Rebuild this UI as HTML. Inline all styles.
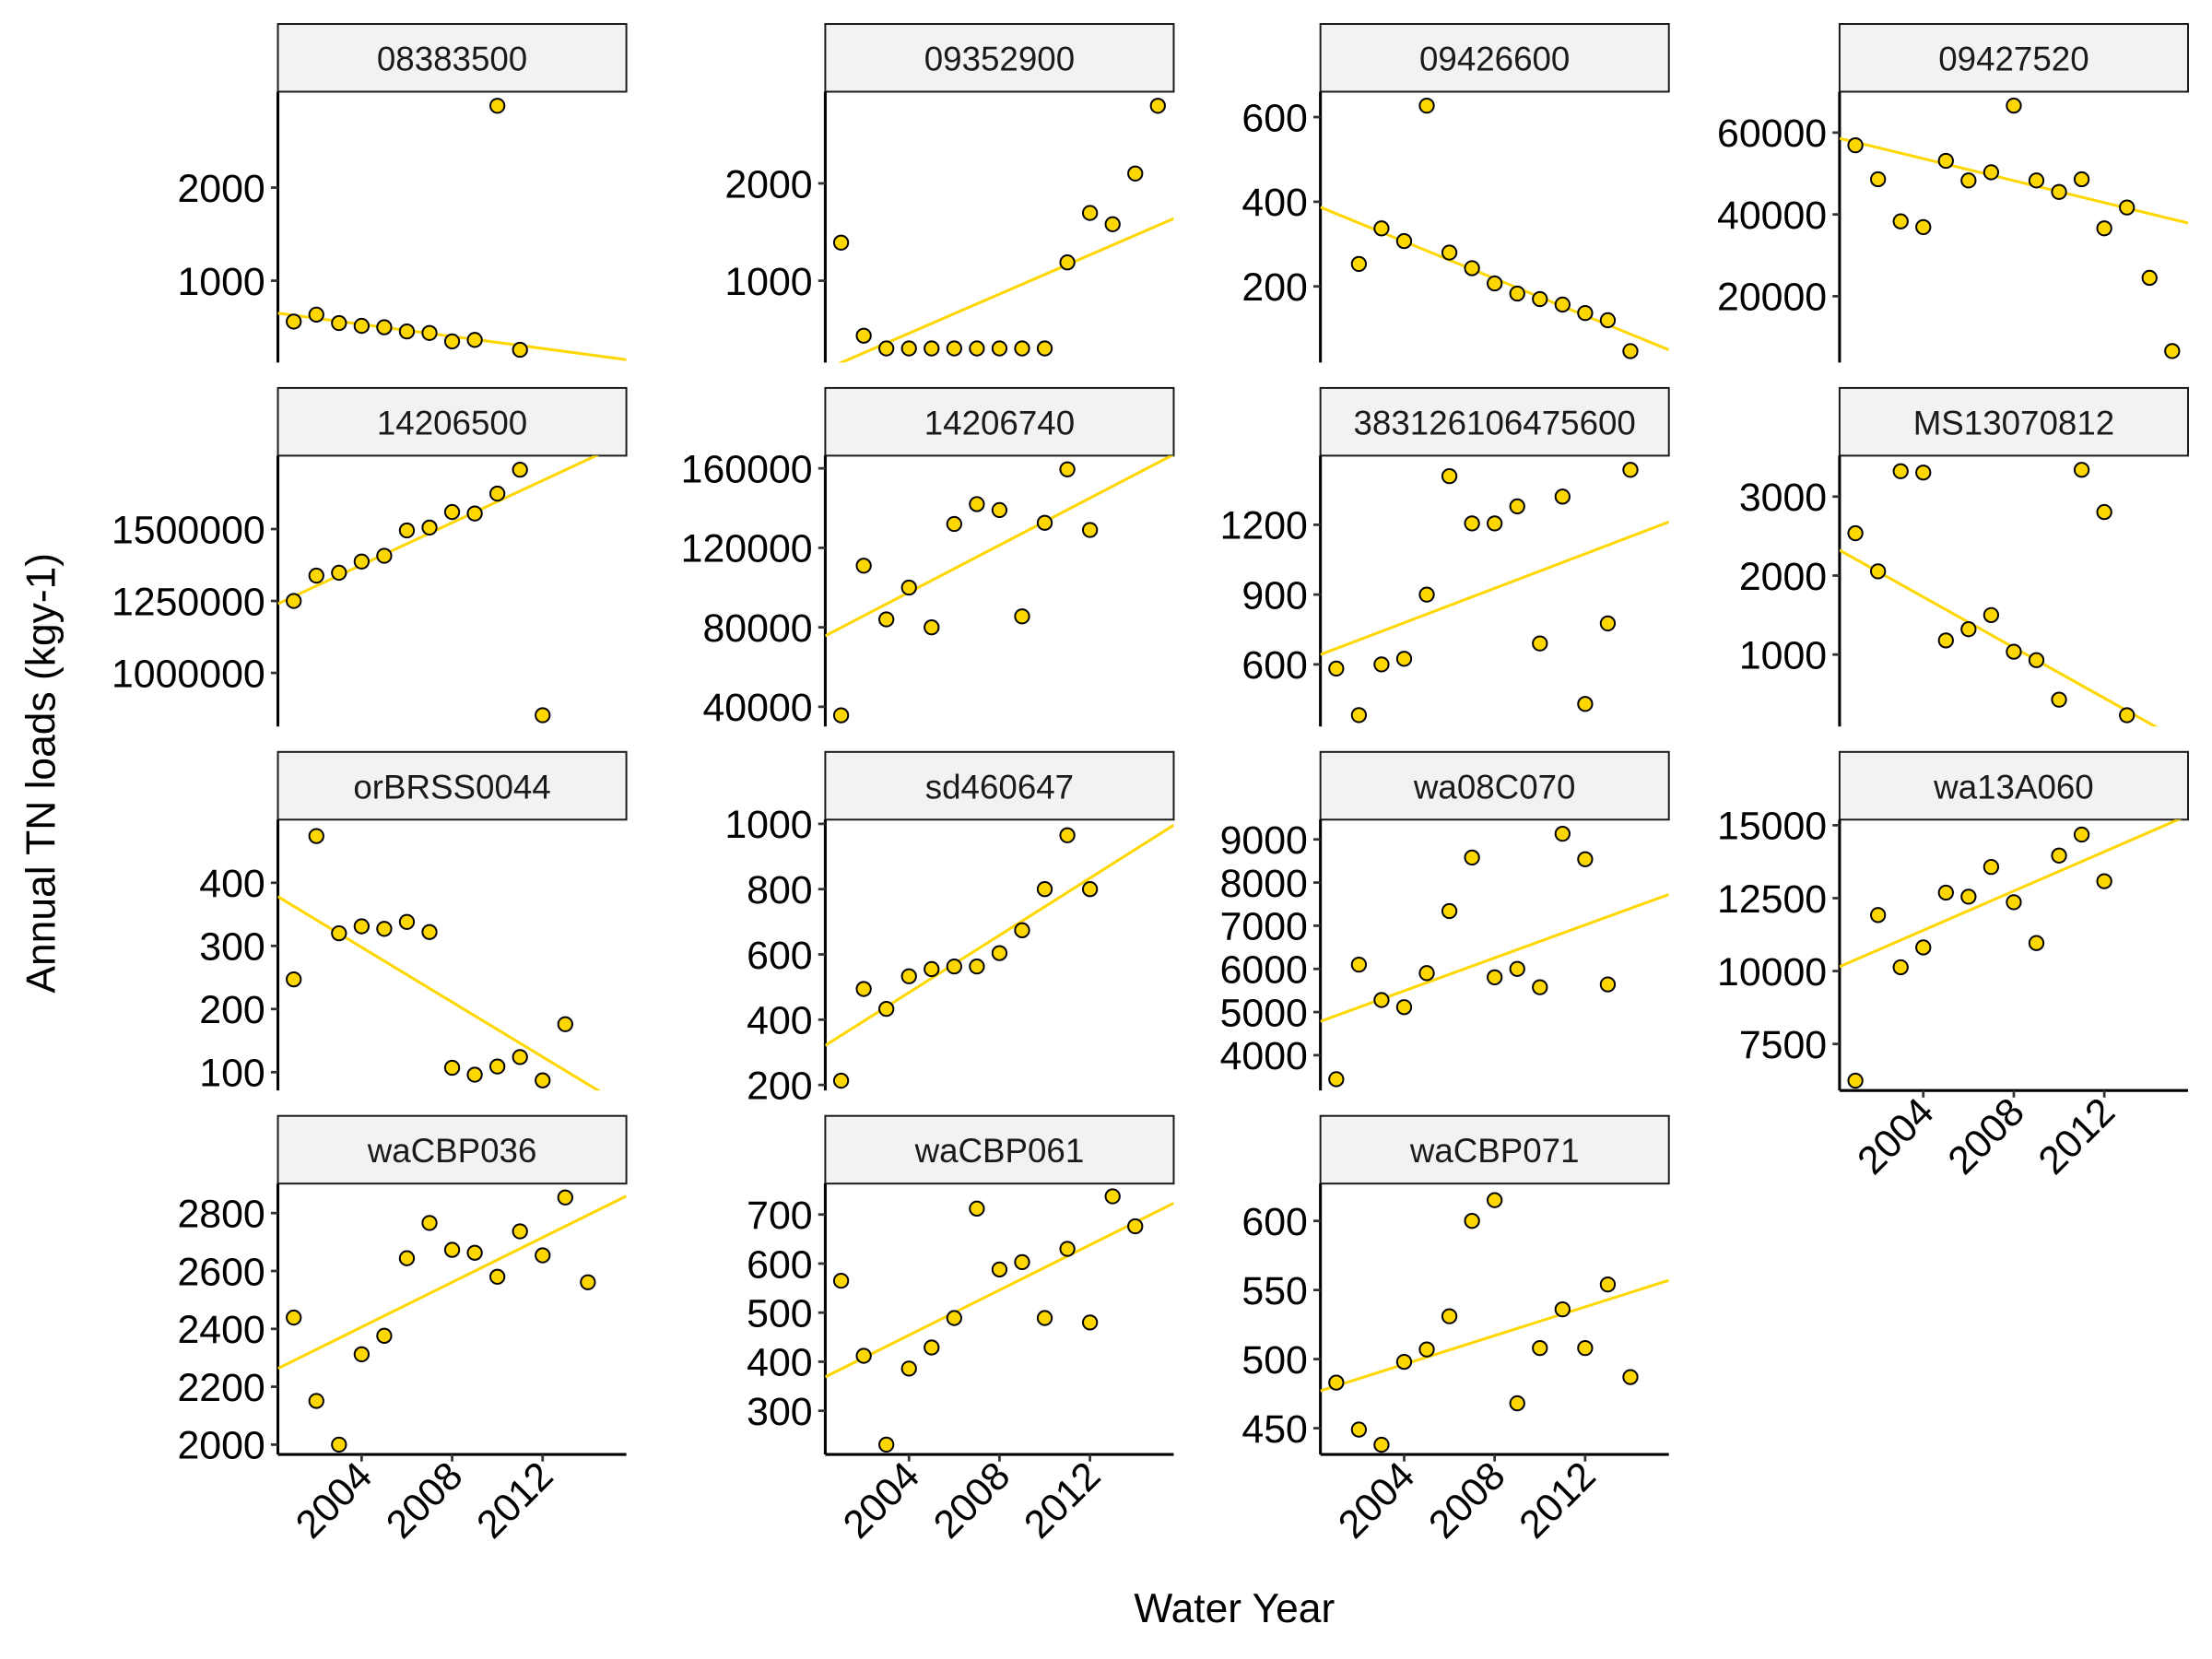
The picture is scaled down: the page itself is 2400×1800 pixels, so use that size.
<!DOCTYPE html>
<html><head><meta charset="utf-8"><style>
html,body{margin:0;padding:0;background:#fff}
svg{display:block}
text{font-family:"Liberation Sans",Arial,sans-serif}
</style></head><body>
<svg id="chart" width="2400" height="1800" viewBox="0 0 1568 1176" xmlns="http://www.w3.org/2000/svg">
<rect width="1568" height="1176" fill="#fff"/>
<text x="875" y="1150" text-anchor="middle" font-size="29" fill="#000">Water Year</text>
<text transform="translate(39,548) rotate(-90)" text-anchor="middle" font-size="29" fill="#000">Annual TN loads (kgy-1)</text>
</svg>
<script>
// ---- data ----
const panelIds = ["08383500","09352900","09426600","09427520","14206500","14206740","383126106475600","MS13070812","orBRSS0044","sd460647","wa08C070","wa13A060","waCBP036","waCBP061","waCBP071"];
const firstYear = [2001,2001,2002,2001,2001,2001,2001,2001,2001,2001,2001,2001,2001,2001,2001];
const loads = [
  [561,636,545,515,500,455,439,348,364,2879,258],
  [1391,435,304,304,304,304,304,304,304,304,1188,1696,1580,2101,2797],
  [253,337,307,627,280,243,207,183,170,157,137,120,47],
  [56900,48600,38300,36900,53100,48300,50300,66600,48300,45500,48600,36600,41700,24500,6600],
  [1250000,1338000,1348000,1387000,1407000,1495000,1505000,1559000,1554000,1623000,1706000,853000],
  [35700,111000,84000,100000,80000,132000,142000,139000,85500,132600,159500,129000],
  [582,382,600,624,900,1409,1206,1206,1279,690,1321,430,776,1436],
  [2536,2054,3321,3304,1179,1321,1500,1036,929,429,3339,2804,232],
  [247,474,320,331,327,338,322,107,96,109,124,87,176],
  [213,494,433,533,555,563,563,604,674,800,965,800],
  [3444,6098,5278,5114,5902,7340,8580,5804,6000,5575,9130,8540,5640],
  [6240,11920,10130,10810,12690,12550,13570,12360,10960,13960,14680,13080],
  [2439,2151,2000,2312,2376,2644,2766,2673,2663,2580,2737,2654,2854,2561],
  [565,412,231,386,429,489,712,588,603,489,630,480,737,676],
  [483,449,438,498,507,531,600,615,468,508,536,508,554,487]
];
const yTicks = [
  [1000,2000],[1000,2000],[200,400,600],[20000,40000,60000],
  [1000000,1250000,1500000],[40000,80000,120000,160000],[600,900,1200],[1000,2000,3000],
  [100,200,300,400],[200,400,600,800,1000],[4000,5000,6000,7000,8000,9000],[7500,10000,12500,15000],
  [2000,2200,2400,2600,2800],[300,400,500,600,700],[450,500,550,600]
];
const yDomainLow  = [121,159,20,3793,813700,30057,333,89,71,183,3183,5904,1966,211,431];
const yDomainHigh = [3030,2942,660,70000,1754900,166390,1497,3518,500,1013,9458,15193,2902,763,627];
// trend line values at x-domain start and end
const trendStart = [651,87,387,58600,1240000,75700,642,2321,378,321,4784,10150,2263,369,477];
const trendEnd   = [152,1638,50,37900,1804000,167000,1212,-143,44,996,7725,15340,2859,723,557];
const xTicks = [2004,2008,2012];
const xDomain = [2000.3,2015.7];

// ---- layout ----
const NS = "http://www.w3.org/2000/svg";
const svg = document.getElementById("chart");
const colL = [197,585,936,1304], colW = 247;
const rowStripTop = [17,275,533,791], stripH = 48, panelH = 192;
const gold = "#FFD700";
function mk(tag, attrs, parent){
  const e = document.createElementNS(NS, tag);
  for (const k in attrs) e.setAttribute(k, attrs[k]);
  (parent||svg).appendChild(e);
  return e;
}
const defs = mk("defs", {});
panelIds.forEach((id, i) => {
  const c = i % 4, r = Math.floor(i / 4);
  const L = colL[c], T = rowStripTop[r] + stripH, B = T + panelH, R = L + colW;
  const xs = v => L + (v - xDomain[0]) / (xDomain[1] - xDomain[0]) * colW;
  const ys = v => B - (v - yDomainLow[i]) / (yDomainHigh[i] - yDomainLow[i]) * panelH;
  const g = mk("g", {});
  
  
  const cp = mk("clipPath", {id: "clip" + i}, defs);
  mk("rect", {x: L, y: T, width: colW, height: panelH}, cp);
  const strip = mk("rect", {x: L, y: rowStripTop[r], width: colW, height: stripH, fill: "#f2f2f2", stroke: "#1a1a1a", "stroke-width": 1.3}, g);
  
  
  const st = mk("text", {x: L + colW / 2, y: rowStripTop[r] + 33, "text-anchor": "middle", "font-size": 24, fill: "#1a1a1a"}, g);
  st.textContent = id;
  
  
  const ax = mk("line", {x1: L, y1: T, x2: L, y2: B, stroke: "#000", "stroke-width": 2}, g);
  
  
  yTicks[i].forEach(t => {
    const y = ys(t);
    const tk = mk("line", {x1: L - 5, y1: y, x2: L, y2: y, stroke: "#333", "stroke-width": 1.8}, g);
    
    
    const tl = mk("text", {x: L - 9, y: y + 10, "text-anchor": "end", "font-size": 28, fill: "#000"}, g);
    tl.textContent = t;
    
    
  });
  const hasX = (r === 3) || (r === 2 && c === 3);
  if (hasX) {
    const xa = mk("line", {x1: L, y1: B, x2: R, y2: B, stroke: "#000", "stroke-width": 2}, g);
    
    
    xTicks.forEach(t => {
      const x = xs(t);
      const tk = mk("line", {x1: x, y1: B, x2: x, y2: B + 5, stroke: "#333", "stroke-width": 1.8}, g);
      
      
      const tl = mk("text", {x: x + 9, y: B + 17, "text-anchor": "end", "font-size": 28, fill: "#000", transform: `rotate(-45 ${x + 9} ${B + 17})`}, g);
      tl.textContent = t;
      
      
    });
  }
  const ln = mk("line", {x1: xs(xDomain[0]), y1: ys(trendStart[i]), x2: xs(xDomain[1]), y2: ys(trendEnd[i]), stroke: gold, "stroke-width": 2, "clip-path": `url(#clip${i})`}, g);
  
  
  loads[i].forEach((v, k) => {
    const p = mk("circle", {cx: xs(firstYear[i] + k), cy: ys(v), r: 5, fill: gold, stroke: "#000", "stroke-width": 1.3}, g);
    
    
  });
});
</script>
</body></html>
